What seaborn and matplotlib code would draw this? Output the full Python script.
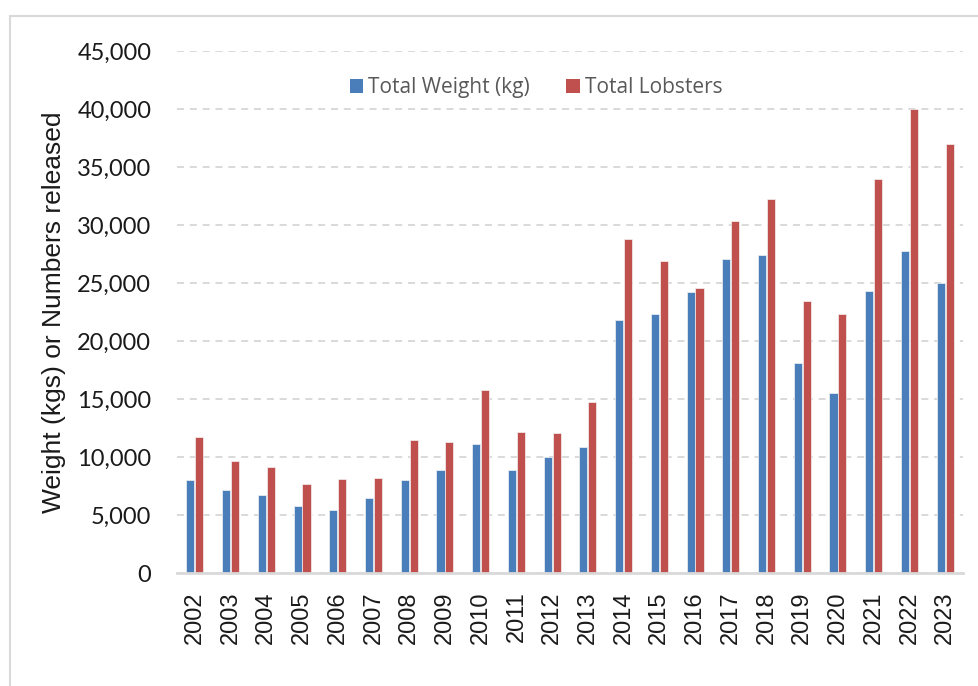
import numpy as np
import pandas as pd
import matplotlib
matplotlib.use("Agg")
import matplotlib.pyplot as plt
import matplotlib.patches as mpatches
from matplotlib.ticker import FuncFormatter
import seaborn as sns

# data
years = [2002, 2003, 2004, 2005, 2006, 2007, 2008, 2009, 2010, 2011, 2012,
         2013, 2014, 2015, 2016, 2017, 2018, 2019, 2020, 2021, 2022, 2023]
total_weight = [8000, 7180, 6720, 5780, 5460, 6440, 8020, 8850, 11120, 8880, 10030,
                10830, 21830, 22350, 24190, 27070, 27410, 18130, 15540, 24310, 27760, 25020]
total_lobsters = [11700, 9630, 9140, 7700, 8080, 8220, 11440, 11260, 15770, 12150, 12070,
                  14740, 28790, 26920, 24570, 30370, 32210, 23470, 22300, 33940, 40000, 37010]
series_names = ["Total Weight (kg)", "Total Lobsters"]
series_colors = ["#4A7EBB", "#C0504D"]
y_ticks = list(range(0, 45001, 5000))

df = pd.DataFrame({
    "year": [str(y) for y in years] * 2,
    "series": [series_names[0]] * len(years) + [series_names[1]] * len(years),
    "value": total_weight + total_lobsters,
})

sns.set_style("white")

fig = plt.figure(figsize=(9.79, 6.86), dpi=100)
ax = fig.add_axes([177 / 979, 1 - 573 / 686, 786 / 979, 522 / 686])

sns.barplot(data=df, x="year", y="value", hue="series", hue_order=series_names,
            palette=series_colors, width=0.5, gap=0.1, ax=ax,
            edgecolor="#f2f2f2", linewidth=0.5, saturation=1, legend=True)

ax.set_ylim(0, 45000)
ax.set_xlim(-0.5, len(years) - 0.5)
ax.set_yticks(y_ticks)
ax.yaxis.set_major_formatter(FuncFormatter(lambda v, p: f"{int(v):,}"))

# dashed grey gridlines behind bars
ax.set_axisbelow(True)
ax.yaxis.grid(True, color="#D9D9D9", linewidth=1.4, linestyle=(0, (3.6, 3)))
ax.xaxis.grid(False)

for side in ["left", "right", "top"]:
    ax.spines[side].set_visible(False)
ax.spines["bottom"].set_color("#D9D9D9")
ax.spines["bottom"].set_linewidth(2)

ax.tick_params(axis="both", length=0)
ax.tick_params(axis="y", pad=18.5, labelsize=17, labelcolor="#1a1a1a",
               labelfontfamily="Lato")
ax.tick_params(axis="x", pad=13, labelsize=17, labelcolor="#1a1a1a",
               labelfontfamily="Liberation Sans", labelrotation=90)

ax.set_xlabel("")
ax.set_ylabel("Weight (kgs) or Numbers released", family="Liberation Sans",
              fontsize=19, color="#1a1a1a")
ax.yaxis.set_label_coords(-0.141, 0.5)

leg = ax.legend(loc="center", bbox_to_anchor=(0.457, 0.93), ncol=2, frameon=False,
                handlelength=0.64, handleheight=0.64, handletextpad=0.27,
                columnspacing=1.73, prop={"family": "Open Sans", "size": 15})
for t in leg.get_texts():
    t.set_color("#595959")
for h in leg.legend_handles:
    h.set_edgecolor("none")

# light chart-area border like the spreadsheet chart
border = mpatches.Rectangle((10 / 979, -0.1), 2.0, (686 - 16) / 686 + 0.1,
                            transform=fig.transFigure, fill=False,
                            edgecolor="#D9D9D9", linewidth=1.5, clip_on=False)
fig.patches.append(border)

fig.savefig("out.png", dpi=100)
